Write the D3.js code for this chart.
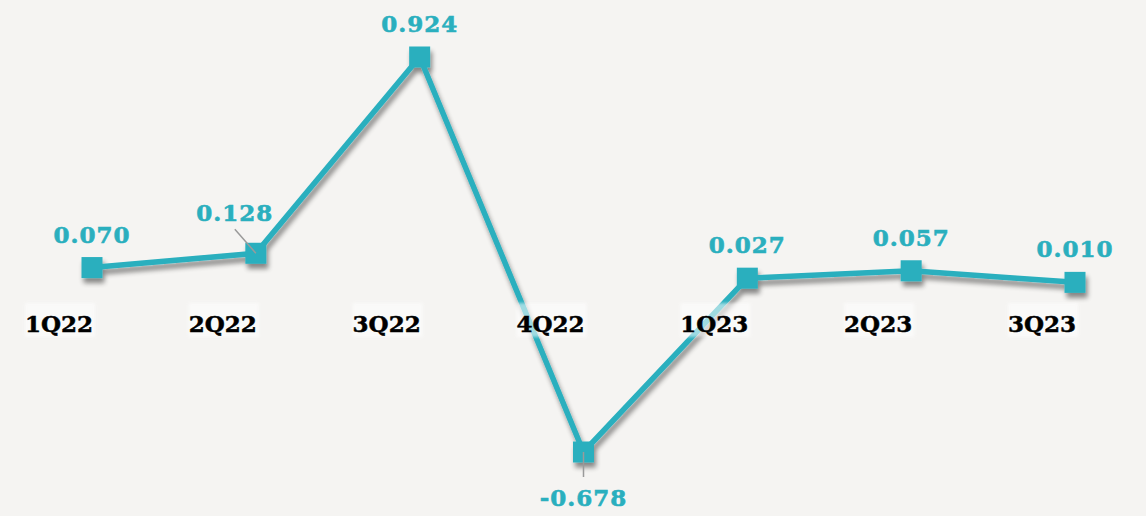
<!DOCTYPE html>
<html>
<head>
<meta charset="utf-8">
<script src="https://cdn.jsdelivr.net/npm/d3@7"></script>
<style>
  html, body { margin: 0; padding: 0; background: #f5f4f2; }
  #chart { width: 1146px; height: 516px; }
</style>
</head>
<body>
<div id="chart"></div>
<script>
const quarters = ["1Q22", "2Q22", "3Q22", "4Q22", "1Q23", "2Q23", "3Q23"];
const values = [0.070, 0.128, 0.924, -0.678, 0.027, 0.057, 0.010];
const labels = ["0.070", "0.128", "0.924", "-0.678", "0.027", "0.057", "0.010"];

const W = 1146, H = 516;
const teal = "#2aafbe";

const svg = d3.select("#chart")
  .append("svg")
  .attr("width", W)
  .attr("height", H);

svg.append("rect").attr("width", W).attr("height", H).attr("fill", "#f5f4f2");

const defs = svg.append("defs");
const sh = defs.append("filter").attr("id", "shadow")
  .attr("x", "-20%").attr("y", "-20%").attr("width", "140%").attr("height", "140%");
sh.append("feGaussianBlur").attr("in", "SourceAlpha").attr("stdDeviation", 2.5);
sh.append("feOffset").attr("dx", 2).attr("dy", 5).attr("result", "off");
sh.append("feComponentTransfer").append("feFuncA").attr("type", "linear").attr("slope", 0.45);
const m = sh.append("feMerge");
m.append("feMergeNode");
m.append("feMergeNode").attr("in", "SourceGraphic");

const soft = defs.append("filter").attr("id", "soft");
soft.append("feGaussianBlur").attr("stdDeviation", 1.5);

const x = d3.scalePoint().domain(quarters).range([92, 1075]);
const y = d3.scaleLinear().domain([-0.678, 0.924]).range([452, 57]);

const data = quarters.map((q, i) => ({ q, v: values[i], t: labels[i] }));

// line + markers
const g = svg.append("g").attr("filter", "url(#shadow)");
g.append("path")
  .datum(data)
  .attr("fill", "none")
  .attr("stroke", teal)
  .attr("stroke-width", 5.5)
  .attr("stroke-linejoin", "miter")
  .attr("d", d3.line().x(d => x(d.q)).y(d => y(d.v)));

g.selectAll("rect.mk")
  .data(data)
  .join("rect")
  .attr("class", "mk")
  .attr("x", d => x(d.q) - 10.5)
  .attr("y", d => y(d.v) - 10.5)
  .attr("width", 21)
  .attr("height", 21)
  .attr("fill", teal);

// category labels with white boxes
const cat = svg.append("g");
cat.selectAll("rect")
  .data(data)
  .join("rect")
  .attr("x", d => x(d.q) - 67)
  .attr("y", 303)
  .attr("width", 70)
  .attr("height", 34)
  .attr("fill", "#ffffff")
  .attr("opacity", 0.55)
  .attr("filter", "url(#soft)");

cat.selectAll("text")
  .data(data)
  .join("text")
  .attr("x", d => x(d.q) + 1)
  .attr("y", 332)
  .attr("text-anchor", "end")
  .attr("font-family", "DejaVu Serif")
  .attr("font-weight", "bold")
  .attr("font-size", 23)
  .attr("fill", "#000")
  .attr("stroke", "#000")
  .attr("stroke-width", 0.5)
  .text(d => d.q);

// leader lines
const lead = svg.append("g").attr("stroke", "#9a9a9a").attr("stroke-width", 1.5);
lead.append("line")
  .attr("x1", x("2Q22") - 21).attr("y1", y(0.128) - 24)
  .attr("x2", x("2Q22")).attr("y2", y(0.128));
lead.append("line")
  .attr("x1", x("4Q22")).attr("y1", y(-0.678))
  .attr("x2", x("4Q22")).attr("y2", y(-0.678) + 25);

// value labels
const dx = { "2Q22": -21 };
const dy = { "2Q22": -32, "4Q22": 54 };
svg.append("g").selectAll("text")
  .data(data)
  .join("text")
  .attr("x", d => x(d.q) + (dx[d.q] || 0))
  .attr("y", d => y(d.v) + (dy[d.q] !== undefined ? dy[d.q] : -25))
  .attr("text-anchor", "middle")
  .attr("font-family", "DejaVu Serif")
  .attr("font-weight", "bold")
  .attr("font-size", 23)
  .attr("letter-spacing", 1)
  .attr("fill", teal)
  .attr("stroke", teal)
  .attr("stroke-width", 0.6)
  .text(d => d.t);
</script>
</body>
</html>
